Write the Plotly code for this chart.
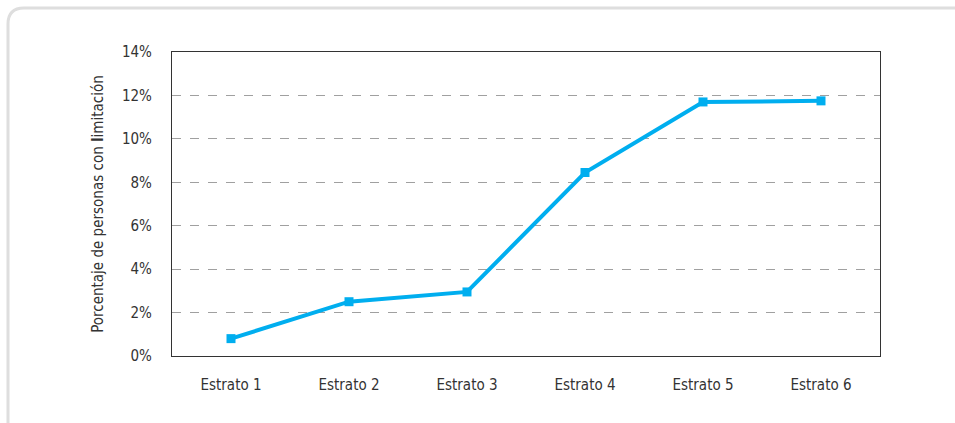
import plotly.graph_objects as go

categories = ["Estrato 1", "Estrato 2", "Estrato 3", "Estrato 4", "Estrato 5", "Estrato 6"]
values = [0.8, 2.5, 2.95, 8.45, 11.7, 11.75]
y_ticks = [0, 2, 4, 6, 8, 10, 12, 14]
y_tick_labels = [f"{v}%" for v in y_ticks]

W, H = 955, 423
ML, MR, MT, MB = 172, 75, 52, 67
PW, PH = W - ML - MR, H - MT - MB

def px(x):
    return (x - ML) / PW

def py(y):
    return (H - MB - y) / PH

font_family = "Liberation Sans Narrow, DejaVu Sans Condensed, Arial Narrow, sans-serif"

fig = go.Figure()
fig.add_trace(go.Scatter(
    x=categories, y=values, mode="lines+markers",
    line=dict(color="#00AEEF", width=4),
    marker=dict(symbol="square", size=9, color="#00AEEF"),
    showlegend=False, cliponaxis=False,
))

r = 16
path = (f"M {px(8)},{py(480)} L {px(8)},{py(8 + r)} "
        f"Q {px(8)},{py(8)} {px(8 + r)},{py(8)} L {px(1000)},{py(8)}")
fig.add_shape(type="path", path=path, xref="paper", yref="paper",
              line=dict(color="#dedede", width=3), layer="below")

fig.update_layout(
    width=W, height=H,
    margin=dict(l=ML, r=MR, t=MT, b=MB),
    paper_bgcolor="white", plot_bgcolor="white",
    font=dict(family=font_family, size=15, color="#333333"),
    xaxis=dict(
        type="category", range=[-0.5, 5.5],
        showline=True, linecolor="#333333", linewidth=1.2, mirror=True,
        showgrid=False, ticks="", ticklabelstandoff=15,
        tickfont=dict(size=15, color="#333333"),
    ),
    yaxis=dict(
        range=[0, 14], tickvals=y_ticks, ticktext=y_tick_labels,
        showline=True, linecolor="#333333", linewidth=1.2, mirror=True,
        showgrid=True, gridcolor="#a0a0a0", griddash="dash", gridwidth=1,
        zeroline=False, ticks="", ticklabelstandoff=16,
        tickfont=dict(size=15, color="#333333"),
        title=dict(text="Porcentaje de personas con <b>l</b>imitación",
                   font=dict(size=15, color="#333333"), standoff=14),
    ),
)

fig.write_html("out.html")
